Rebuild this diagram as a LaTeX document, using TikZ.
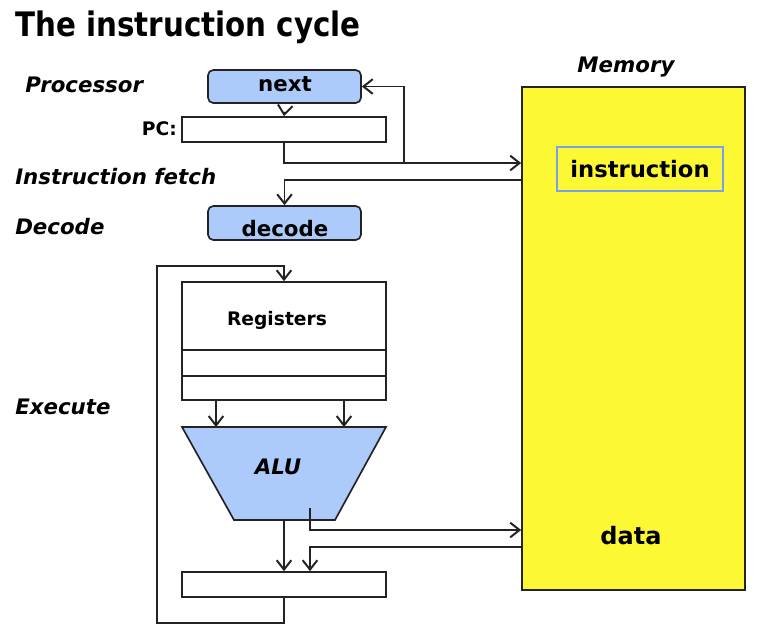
\documentclass[tikz,border=0pt]{standalone}
\usepackage{fontspec}
\setmainfont{DejaVu Sans}
\usetikzlibrary{arrows.meta}
\definecolor{boxblue}{RGB}{172,202,250}
\definecolor{memyellow}{RGB}{252,248,52}
\definecolor{linegray}{RGB}{35,35,35}
\definecolor{instrborder}{RGB}{120,160,235}
\tikzset{
  arr/.style={draw=linegray, line width=1.25pt, -{Straight Barb[length=7pt,width=11pt,line width=1.5pt]}},
  conn/.style={draw=linegray, line width=1.25pt},
  bluebox/.style={draw=linegray, line width=1.25pt, fill=boxblue, rounded corners=4pt, inner sep=0pt},
  plainbox/.style={draw=linegray, line width=1.25pt, fill=white, inner sep=0pt},
  lbl/.style={font=\bfseries\itshape\fontsize{16}{18}\selectfont, inner sep=0pt},
  txt/.style={font=\bfseries\fontsize{16}{18}\selectfont, inner sep=0pt},
}
\begin{document}
\begin{tikzpicture}[x=0.75pt,y=-0.75pt]
\useasboundingbox (0,0) rectangle (776,640);
% title
\node[font=\bfseries\fontsize{22}{26}\selectfont, anchor=west, inner sep=0pt] (title) at (15,27) {\scalebox{1}[1.15]{The instruction cycle}};
% left labels
\node[lbl, anchor=west] (lproc) at (25,85) {Processor};
\node[lbl, anchor=west] (lfetch) at (15,177) {Instruction fetch};
\node[lbl, anchor=west] (ldec) at (15,227) {Decode};
\node[lbl, anchor=west] (lexec) at (15,407) {Execute};
% memory
\node[draw=linegray, line width=1.25pt, fill=memyellow, minimum width=0.75pt*223, minimum height=0.75pt*503, inner sep=0pt] (mem) at (633.5,338.5) {};
\node[lbl] (lmem) at (626,67) {Memory};
\node[draw=instrborder, line width=0.9pt, minimum width=0.75pt*166, minimum height=0.75pt*44, inner sep=0pt, font=\bfseries\fontsize{17}{20}\selectfont] (instr) at (640,169) {instruction};
\node[txt, font=\bfseries\fontsize{18}{20}\selectfont] (data) at (631,536) {data};
% processor boxes
\node[bluebox, minimum width=0.75pt*153, minimum height=0.75pt*33] (next) at (284.5,86.5) {};
\node[txt] (nexttxt) at (285,84) {next};
\node[plainbox, minimum width=0.75pt*204, minimum height=0.75pt*25] (pc) at (284,129.5) {};
\node[txt, font=\bfseries\fontsize{14}{16}\selectfont, anchor=east] (pclbl) at (177,129) {PC:};
\node[bluebox, minimum width=0.75pt*153, minimum height=0.75pt*34] (decode) at (284.5,223) {};
\node[txt] (decodetxt) at (285,229) {decode};
% registers
\node[plainbox, minimum width=0.75pt*204, minimum height=0.75pt*118] (regs) at (284,341) {};
\draw[conn] (regs.west |- 0,350) -- (regs.east |- 0,350);
\draw[conn] (regs.west |- 0,376) -- (regs.east |- 0,376);
\node[txt, font=\bfseries\fontsize{14}{16}\selectfont] (regtxt) at (277,320) {Registers};
% ALU
\draw[draw=linegray, line width=1.25pt, fill=boxblue] (182,427) -- (386,427) -- (335,520) -- (234,520) -- cycle;
\node[txt, font=\bfseries\itshape\fontsize{16}{18}\selectfont] (alu) at (278,467) {ALU};
\coordinate (aluL) at (216,427);
\coordinate (aluR) at (344,427);
\coordinate (aluOut) at (284,520);
\coordinate (aluW) at (310,508);
% output box
\node[plainbox, minimum width=0.75pt*204, minimum height=0.75pt*25] (outbox) at (284,584.5) {};
% helper coordinates
\coordinate (j1) at (404,163);
\coordinate (f2) at (0,180);
\coordinate (loopc) at (157,266);
\coordinate (w1) at (0,530);
\coordinate (r1) at (310,547);
% connectors
\draw[arr] ([yshift=-6pt]next.south) -- (pc.north);
\draw[arr] (pc.south) |- (mem.west |- j1);
\draw[arr] (j1) |- (next.east);
\draw[arr] (mem.west |- f2) -| (decode.north);
\draw[arr] (outbox.south) -- ++(0,25) -| (loopc) -| (regs.north);
\draw[arr] (regs.south -| aluL) -- (aluL);
\draw[arr] (regs.south -| aluR) -- (aluR);
\draw[arr] (aluOut) -- (outbox.north);
\draw[arr] (aluW) |- (mem.west |- w1);
\draw[arr] (mem.west |- r1) -| (outbox.north -| r1);
\end{tikzpicture}
\end{document}
